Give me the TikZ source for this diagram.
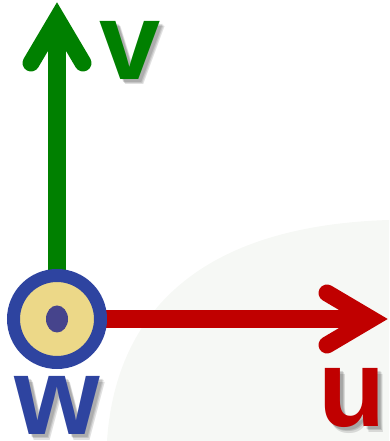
\documentclass[tikz,border=0pt]{standalone}
\usepackage{fontspec}
\setmainfont{Liberation Sans}
\usetikzlibrary{shapes.geometric}
\definecolor{vgreen}{RGB}{0,128,0}
\definecolor{ured}{RGB}{192,0,0}
\definecolor{wblue}{RGB}{46,68,160}
\definecolor{dotblue}{RGB}{70,68,140}
\definecolor{wyellow}{RGB}{236,216,136}
\definecolor{haze}{RGB}{246,248,245}
\tikzset{
  shaft/.style={line width=18pt},
  barb/.style={line width=17pt, line cap=round, line join=miter},
  lab/.style={font=\fontsize{110}{110}\bfseries\selectfont, inner sep=0pt, anchor=base},
  shade/.style={lab, text=black, opacity=0.12}
}
\begin{document}
\begin{tikzpicture}[x=1pt,y=1pt]
        \useasboundingbox (0,0) rectangle (389,441);
        \fill[haze] (107,0) .. controls (115,120) and (190,215) .. (389,221) -- (389,0) -- cycle;

        \coordinate (o) at (57,122);
        \coordinate (vtip) at (57,422);
        \coordinate (vl) at (31,378);
        \coordinate (vr) at (83,378);
        \coordinate (utip) at (371,122);
        \coordinate (ul) at (327,148);
        \coordinate (ur) at (327,96);

        \draw[shaft, vgreen] (o) -- (vtip);
        \draw[barb, vgreen] (vl) -- (vtip) -- (vr);
        \draw[shaft, ured] (o) -- (utip);
        \draw[barb, ured] (ul) -- (utip) -- (ur);

        \node[circle, draw=wblue, fill=wyellow, line width=13pt, minimum size=87pt, inner sep=0pt] (w) at (o) {};
        \node[ellipse, fill=dotblue, minimum width=22pt, minimum height=27pt, inner sep=0pt] (dot) at (o) {};

        % soft shadows behind the letters
        \foreach \dx/\dy in {3/-3, 4/-4, 5/-5} {
          \node[shade] at (130+\dx,361+\dy) {v};
          \node[shade] at (352+\dx,14+\dy) {u};
          \node[shade] at (57+\dx,6+\dy) {w};
        }
        \node[lab, text=vgreen] (v) at (130,361) {v};
        \node[lab, text=ured] (u) at (352,14) {u};
        \node[lab, text=wblue] (wl) at (57,6) {w};
    \end{tikzpicture}
\end{document}
